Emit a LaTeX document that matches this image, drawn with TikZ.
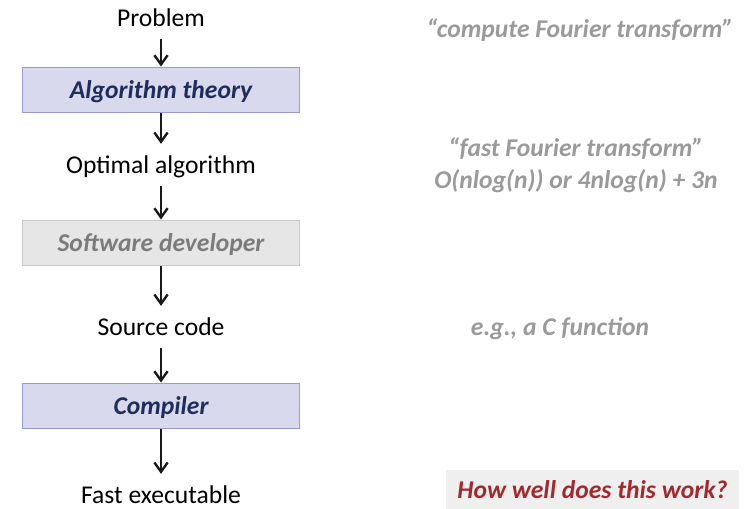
\documentclass[tikz,border=0pt]{standalone}
\usepackage{fontspec}
\setmainfont{Carlito}
\usepackage{xcolor}
\usetikzlibrary{arrows.meta,positioning}

\definecolor{boxfill}{HTML}{D9D9EE}
\definecolor{boxline}{HTML}{9A9AD2}
\definecolor{boxtext}{HTML}{1F2D5C}
\definecolor{devfill}{HTML}{E6E6E6}
\definecolor{devline}{HTML}{C9C9C9}
\definecolor{notegray}{HTML}{9A9A9A}
\definecolor{askred}{HTML}{A12A2E}
\definecolor{askfill}{HTML}{EFEFEF}

\begin{document}
\begin{tikzpicture}[
    x=0.0265cm, y=-0.0265cm,
    every node/.style={font=\fontsize{19.3}{22}\selectfont, text depth=0pt},
    stage/.style={rectangle, minimum height=31.5pt, inner sep=0pt},
    tool/.style={rectangle, draw=#1line, fill=#1fill, line width=0.8pt, minimum width=208.8pt, minimum height=34.6pt,
        font=\fontsize{19.3}{22}\selectfont\bfseries\itshape},
    tool/.default=box,
    note/.style={text=notegray, align=center, font=\fontsize{19.3}{24.5}\selectfont\bfseries\itshape},
    arr/.style={-{Straight Barb[length=7pt,width=10pt,line width=1.8pt]}, line width=2pt, color=black!90}
]
    \useasboundingbox (0,0) rectangle (746,509);

    % Left column: from problem to executable
    \node[stage]                        (problem)  at (161,18)  {Problem};
    \node[tool, text=boxtext]           (theory)   at (161,90)  {Algorithm theory};
    \node[stage]                        (optimal)  at (161,165) {Optimal algorithm};
    \node[tool=dev, text=notegray!80!black] (developer) at (161,243) {Software developer};
    \node[stage]                        (source)   at (161,327) {Source code};
    \node[tool, text=boxtext]           (compiler) at (161,406) {Compiler};
    \node[stage]                        (fast)     at (161,495) {Fast executable};

    \draw[arr] (problem)   -- (theory);
    \draw[arr] (theory)    -- (optimal);
    \draw[arr] (optimal)   -- (developer);
    \draw[arr] (developer) -- (source);
    \draw[arr] (source)    -- (compiler);
    \draw[arr] (compiler)  -- (fast);

    % Right column: examples
    \node[note] (fourier) at (580,28)  {``compute Fourier transform''};
    \node[note] (fft)     at (576,163) {``fast Fourier transform''\\O(nlog(n)) or 4nlog(n) + 3n};
    \node[note] (cfunc)   at (560,327) {e.g., a C function};
    \node[rectangle, fill=askfill, text=askred, minimum width=221.6pt, minimum height=29.3pt,
        font=\fontsize{19.3}{22}\selectfont\bfseries\itshape] (ask) at (592.5,489.5) {How well does this work?};
\end{tikzpicture}
\end{document}
